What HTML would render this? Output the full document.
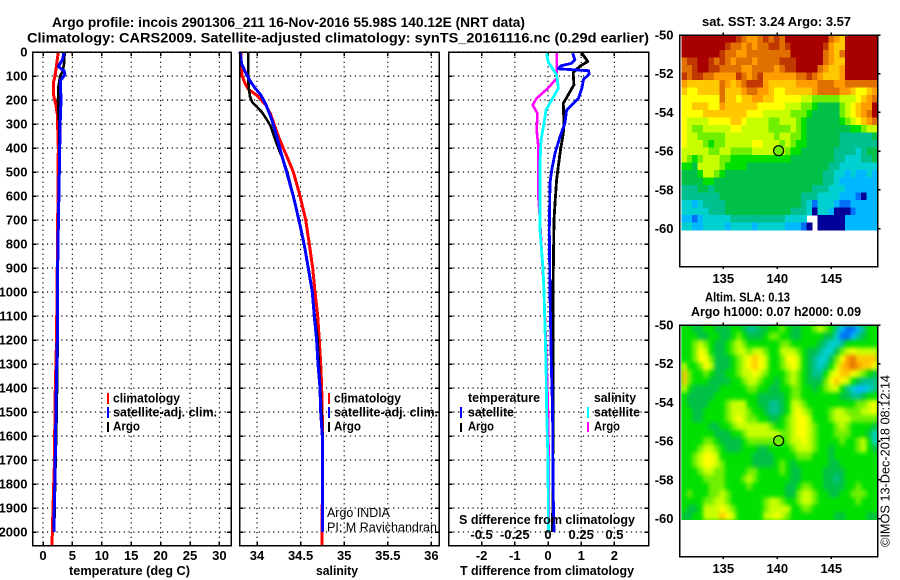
<!DOCTYPE html>
<html lang="en">
<head>
<meta charset="utf-8">
<title>Argo profile chart</title>
<style>
html,body{margin:0;padding:0;background:#fff;}
#chart{display:block;width:900px;height:580px;}
text{font-family:"Liberation Sans",sans-serif;font-weight:bold;font-size:13px;fill:#000;}
text.reg{font-weight:normal;}
</style>
</head>
<body>
<svg id="chart" xmlns="http://www.w3.org/2000/svg" width="900" height="580" viewBox="0 0 900 580">
<defs>
<filter id="sla-smooth" filterUnits="userSpaceOnUse" x="660" y="310" width="240" height="230" color-interpolation-filters="sRGB">
<feGaussianBlur stdDeviation="2"/>
</filter>
<clipPath id="sla-clip"><rect x="681.3" y="325" width="196.2" height="195"/></clipPath>
</defs>
<rect x="0" y="0" width="900" height="580" fill="#fff"/>
<text x="52" y="27" font-size="14" textLength="473" lengthAdjust="spacingAndGlyphs" style="font-size:14px">Argo profile: incois 2901306_211 16-Nov-2016 55.98S 140.12E (NRT data)</text>
<text x="27" y="42.5" textLength="622" lengthAdjust="spacingAndGlyphs" style="font-size:14px">Climatology: CARS2009. Satellite-adjusted climatology: synTS_20161116.nc (0.29d earlier)</text>
<g id="layer-maps"></g>
<g id="layer-panels"></g>

<text x="69" y="575" textLength="121" lengthAdjust="spacingAndGlyphs">temperature (deg C)</text>
<text x="316" y="575" textLength="42" lengthAdjust="spacingAndGlyphs">salinity</text>
<text x="460" y="575" textLength="174" lengthAdjust="spacingAndGlyphs">T difference from climatology</text>
<text x="459" y="524" textLength="176" lengthAdjust="spacingAndGlyphs">S difference from climatology</text>

<g>
<rect x="107" y="393" width="2" height="11" fill="#f00"/>
<text x="113" y="402.5" textLength="67" lengthAdjust="spacingAndGlyphs">climatology</text>
<rect x="107" y="407" width="2" height="11" fill="#00f"/>
<text x="113" y="416.5" textLength="104" lengthAdjust="spacingAndGlyphs">satellite-adj. clim.</text>
<rect x="107" y="422" width="2" height="10" fill="#000"/>
<text x="113" y="430.5" textLength="27" lengthAdjust="spacingAndGlyphs">Argo</text>
</g>
<g>
<rect x="328" y="393" width="2" height="11" fill="#f00"/>
<text x="334" y="402.5" textLength="67" lengthAdjust="spacingAndGlyphs">climatology</text>
<rect x="328" y="407" width="2" height="11" fill="#00f"/>
<text x="334" y="416.5" textLength="104" lengthAdjust="spacingAndGlyphs">satellite-adj. clim.</text>
<rect x="328" y="422" width="2" height="10" fill="#000"/>
<text x="334" y="430.5" textLength="27" lengthAdjust="spacingAndGlyphs">Argo</text>
</g>
<g>
<text x="468" y="402" textLength="72" lengthAdjust="spacingAndGlyphs">temperature</text>
<rect x="460" y="407" width="2" height="11" fill="#00f"/>
<text x="468" y="416.5" textLength="46" lengthAdjust="spacingAndGlyphs">satellite</text>
<rect x="460" y="423" width="2" height="9" fill="#000"/>
<text x="468" y="430.5" textLength="26" lengthAdjust="spacingAndGlyphs">Argo</text>
<text x="594" y="402" textLength="42" lengthAdjust="spacingAndGlyphs">salinity</text>
<rect x="587" y="407" width="2" height="11" fill="#0ff"/>
<text x="594" y="416.5" textLength="46" lengthAdjust="spacingAndGlyphs">satellite</text>
<rect x="587" y="422" width="2" height="10" fill="#f0f"/>
<text x="594" y="430.5" textLength="26" lengthAdjust="spacingAndGlyphs">Argo</text>
</g>
<text class="reg" x="327" y="517" textLength="63" lengthAdjust="spacingAndGlyphs">Argo INDIA</text>
<text class="reg" x="327" y="531.5" textLength="110" lengthAdjust="spacingAndGlyphs">PI: M Ravichandran</text>

<text x="702" y="26" textLength="149" lengthAdjust="spacingAndGlyphs">sat. SST: 3.24 Argo: 3.57</text>
<text x="705" y="301.5" textLength="85" lengthAdjust="spacingAndGlyphs">Altim. SLA: 0.13</text>
<text x="691" y="316" textLength="170" lengthAdjust="spacingAndGlyphs">Argo h1000: 0.07 h2000: 0.09</text>
<text class="reg" transform="translate(889.5,547) rotate(-90)" x="0" y="0" textLength="172" lengthAdjust="spacingAndGlyphs">©IMOS 13-Dec-2018 08:12:14</text>
</svg>

<script>
// ---- shared depth axis ----
var depthTicks = [0,100,200,300,400,500,600,700,800,900,1000,1100,1200,1300,1400,1500,1600,1700,1800,1900,2000];

// ---- temperature panel ----
var tempTicks = [0,5,10,15,20,25,30];
var tempClimDepth = [0,50,100,130,180,220,260,400,600,800,1000,1200,1450,1700,1900,2056];
var tempClim = [2.6,2.33,2.04,1.75,1.8,2.2,2.43,2.6,2.54,2.47,2.38,2.3,2.04,1.96,1.7,1.53];
var tempSatDepth = [0,30,60,80,95,120,200,300,500,800,1000,1200,1400,1600,1800,1950,2000];
var tempSat = [3.57,3.35,2.6,3.6,3.7,2.95,3.06,2.9,2.78,2.55,2.43,2.43,2.27,2.15,2.0,1.87,1.83];
var tempArgoDepth = [0,50,80,100,150,200,250,300,500,800,1000,1200,1500,1800,2000];
var tempArgo = [3.69,3.57,3.35,2.9,2.6,2.55,2.62,2.78,2.75,2.58,2.43,2.5,2.33,2.05,1.9];

// ---- salinity panel ----
var salTicks = [34,34.5,35,35.5,36];
var salClimDepth = [0,50,100,130,155,180,220,260,300,350,400,450,500,550,600,700,800,900,1000,1100,1200,1300,1400,1600,2056];
var salClim = [33.813,33.82,33.83,33.862,33.9,33.997,34.1,34.157,34.195,34.244,34.3,34.36,34.416,34.455,34.493,34.558,34.6,34.639,34.665,34.696,34.714,34.73,34.742,34.753,34.745];
var salSatDepth = [0,50,80,120,150,180,220,280,350,420,500,600,700,800,900,1000,1100,1200,1300,1400,1500,1600,1700,2000];
var salSat = [33.805,33.825,33.862,33.92,33.977,34.046,34.103,34.168,34.226,34.275,34.34,34.416,34.48,34.54,34.588,34.634,34.657,34.684,34.7,34.722,34.73,34.749,34.753,34.753];
var salArgoDepth = [0,100,150,185,210,230,250,280,310,350,400,450,500,600,700,800,900,1000,1100,1200,1400,1600,2000];
var salArgo = [33.9,33.9,33.905,33.92,33.946,34.003,34.054,34.11,34.157,34.195,34.244,34.3,34.347,34.416,34.48,34.54,34.588,34.634,34.662,34.695,34.725,34.753,34.753];

// ---- difference panel ----
var tDiffTicks = [-2,-1,0,1,2];
var sDiffTicks = [-0.5,-0.25,0,0.25,0.5];
var sDiffTickLabels = ['-0.5','-0.25','0','0.25','0.5'];
var tDiffSatDepth = [5,33,47,58,70,78,92,114,151,193,221,242,297,353,422,492,547,742,1000,1300,1500,1800,2000];
var tDiffSat = [0.74,0.81,0.71,0.38,0.31,1.22,1.24,1.07,1.02,0.92,0.71,0.56,0.51,0.36,0.21,0.11,0.06,0.04,0.06,0.1,0.14,0.15,0.18];
var tDiffArgoDepth = [5,40,58,86,137,214,297,339,422,533,631,700,1000,1500,2000];
var tDiffArgo = [1.02,1.2,0.97,0.76,0.78,0.46,0.48,0.46,0.36,0.26,0.21,0.18,0.15,0.15,0.14];
var sDiffSatDepth = [5,40,96,151,200,242,297,367,464,742,900,1000,1300,1500,1700,2000];
var sDiffSat = [-0.01,0,0.065,0.078,0.028,-0.015,-0.03,-0.053,-0.06,-0.06,-0.038,-0.03,-0.015,-0.01,0,0.003];
var sDiffArgoDepth = [5,110,151,193,221,256,325,394,603,700,900,1000,1300,1500,1700,2000];
var sDiffArgo = [0.065,0.065,0,-0.085,-0.115,-0.08,-0.085,-0.073,-0.073,-0.06,-0.04,-0.03,-0.01,0,0.005,0.003];

// ---- maps ----
var latTicks = [-50,-52,-54,-56,-58,-60];
var lonTicks = [135,140,145];
var floatLat = -55.98;
var floatLon = 140.12;
var levelColors = ['#000098','#0070f8','#00b8ff','#00d0d0','#00c090','#00c048','#00e000','#70f000','#c8ff00','#ffff00','#ffc800','#ff9c00','#e07000','#c03800','#a80000'];
// SST colour level per grid cell (north to south); -1 means no data
var sstLevels = [
[14,14,14,14,14,14,14,14,14,14,13,12,11,11,12,13,12,13,12,14,14,14,14,14,14,14,14,12,11,10,14,14,14,14,14,14],
[14,14,14,14,14,14,14,14,13,12,12,11,12,11,12,12,13,13,12,13,14,14,14,14,14,14,13,11,10,10,14,14,14,14,14,14],
[14,14,14,14,14,14,14,13,12,12,11,11,12,12,12,12,12,12,12,12,14,14,14,14,14,14,12,11,10,12,14,14,14,14,14,14],
[12,13,13,14,14,13,12,13,12,11,12,12,12,11,12,12,12,12,13,13,13,14,14,14,14,14,12,11,10,10,14,14,14,14,14,14],
[12,12,13,14,14,13,13,12,12,12,12,11,11,12,12,12,12,11,12,13,13,14,14,14,14,12,11,10,10,11,14,14,14,14,14,14],
[13,12,13,13,12,12,11,11,11,11,13,12,11,12,13,11,11,11,11,11,11,12,12,13,12,11,10,10,10,11,14,14,14,14,14,14],
[11,10,10,10,10,10,10,12,11,10,11,12,13,13,13,11,10,10,10,10,10,11,11,11,11,12,12,12,11,11,12,12,12,12,12,12],
[10,9,9,10,10,10,10,12,10,10,10,11,12,12,11,11,10,9,9,10,10,10,10,10,11,12,12,12,12,11,11,10,9,9,10,11],
[9,9,9,9,9,9,9,12,10,10,9,10,10,11,11,10,10,9,9,9,9,9,8,8,7,7,7,7,7,8,8,8,9,10,11,12],
[9,9,10,10,10,9,9,11,10,10,10,10,10,10,9,9,9,9,9,8,8,8,7,7,6,5,5,5,5,7,8,9,10,11,11,14],
[9,9,9,9,10,10,10,10,10,10,10,10,9,9,9,8,8,8,8,8,7,7,7,6,5,5,5,5,5,7,8,9,10,11,12,14],
[9,8,8,8,8,9,9,9,9,10,10,9,8,8,8,8,7,7,8,8,8,7,6,5,5,5,5,5,5,6,7,8,9,10,11,12],
[9,8,7,7,8,8,8,8,8,9,9,8,8,8,8,8,7,7,7,7,8,7,6,5,5,5,5,5,5,5,5,6,6,7,8,8],
[9,8,8,7,7,7,7,7,8,8,8,8,8,8,8,8,8,7,8,8,7,7,6,5,5,5,5,5,5,4,4,4,4,4,4,5],
[9,8,8,8,7,6,7,7,8,8,8,8,8,9,9,8,8,8,7,8,7,6,6,5,5,5,5,5,5,4,4,4,4,4,4,4],
[8,8,8,8,8,7,7,8,8,7,7,7,7,8,8,8,8,7,8,7,6,6,5,5,5,5,5,5,4,4,4,4,3,4,5,5],
[8,7,6,7,8,8,8,7,7,6,6,6,6,6,6,6,6,6,6,6,5,5,5,5,5,5,5,5,4,4,3,3,3,4,4,5],
[6,6,5,8,8,8,8,7,6,6,6,6,5,5,5,5,5,5,5,5,5,5,5,5,5,5,5,4,4,3,3,3,3,3,3,3],
[5,5,5,6,8,8,7,6,5,5,5,5,5,5,5,5,5,5,5,5,5,5,5,5,5,5,4,4,3,3,2,3,2,2,3,2],
[5,5,5,5,6,6,5,5,5,5,5,5,5,5,5,5,5,5,5,5,5,5,5,5,5,5,4,4,3,2,2,2,2,2,2,2],
[4,4,4,5,5,4,5,5,5,5,5,5,5,5,5,5,5,5,5,5,5,5,5,5,4,4,4,3,3,3,2,2,2,2,2,2],
[4,4,4,4,4,4,4,5,5,5,5,5,5,5,5,5,5,5,5,5,5,5,4,4,4,3,3,3,3,2,2,2,1,0,2,2],
[3,3,2,3,4,4,4,4,5,5,5,5,5,5,5,5,5,5,5,5,5,5,4,3,1,3,3,3,2,1,1,2,2,2,2,2],
[3,3,3,3,3,4,4,4,5,5,5,5,5,5,5,5,5,5,5,5,4,4,4,3,0,3,3,2,0,0,0,1,2,2,2,2],
[2,2,1,2,3,3,3,3,3,4,4,4,4,4,4,4,4,4,4,3,3,3,3,-1,-1,0,0,0,0,0,2,2,2,2,2,2],
[3,3,2,2,3,3,3,3,2,3,3,3,3,2,3,3,3,3,3,2,2,2,1,0,-1,0,0,0,0,0,2,2,2,2,2,2]
];
// Sea level anomaly colour level per grid cell (north to south)
var slaLevels = [
[6,6,5,5,6,6,5,5,5,6,6,5,4,4,5,5,6,6,7,6,5,5,6,6,7,8,7,6,4,2,1,1,2,4,6,6],
[6,6,6,5,5,6,6,5,5,6,7,6,5,5,5,6,7,7,6,6,5,5,6,6,6,6,5,5,3,1,1,2,4,5,6,6],
[6,6,7,8,7,6,5,5,6,7,8,7,6,6,6,6,6,6,7,7,6,6,6,6,6,5,4,3,3,4,6,6,6,6,6,6],
[6,6,7,9,8,6,5,5,6,7,8,8,7,8,8,7,6,6,8,8,8,7,6,5,5,4,3,3,5,7,8,9,8,8,8,8],
[6,6,7,9,9,7,5,5,5,6,7,8,9,10,9,8,6,6,7,9,9,8,6,5,4,3,3,5,7,9,11,12,10,10,10,10],
[8,6,6,7,9,8,5,5,5,6,7,8,9,10,9,8,6,6,7,8,9,8,6,5,4,3,4,6,8,10,11,12,11,10,10,9],
[10,7,6,6,7,6,5,5,6,6,7,8,8,9,8,7,6,6,6,7,8,7,6,5,4,4,6,8,9,10,10,9,8,7,6,5],
[10,7,6,6,6,5,5,5,5,6,6,7,8,8,7,6,6,5,6,7,8,7,6,5,5,5,7,9,10,9,8,6,5,4,4,4],
[8,6,5,5,5,5,5,6,6,6,6,6,7,7,6,6,5,5,6,6,7,7,6,6,5,6,7,8,8,6,4,3,2,2,3,4],
[6,5,5,5,5,5,6,6,6,6,6,6,6,6,5,5,5,5,5,6,7,7,6,6,6,6,6,6,6,5,5,4,4,5,6,6],
[6,5,5,5,5,6,6,6,7,8,8,8,6,6,5,5,4,4,5,6,8,8,7,6,6,6,6,6,6,6,6,6,7,7,8,9],
[6,6,5,5,6,6,6,6,7,8,8,8,7,6,6,5,4,4,5,6,8,9,8,7,6,6,6,7,8,8,7,7,7,8,8,9],
[6,6,5,5,6,6,6,6,7,8,9,8,7,7,6,6,5,5,6,7,8,9,9,8,6,6,6,7,8,8,8,7,7,7,7,7],
[6,6,6,6,6,5,5,6,6,7,8,8,8,8,8,8,7,6,6,7,8,9,9,8,7,6,6,6,7,8,7,6,6,6,6,5],
[6,6,6,6,6,6,5,5,5,6,6,7,8,8,8,8,8,8,7,7,8,9,9,8,7,6,6,6,7,7,7,6,6,6,5,3],
[6,6,6,6,7,7,6,5,5,5,5,6,7,7,7,7,7,7,6,7,8,8,9,8,7,6,6,6,6,7,6,6,7,8,6,3],
[6,6,6,7,8,8,7,6,5,5,5,6,6,6,5,5,6,6,6,6,7,8,8,8,7,6,6,5,6,6,6,6,7,8,6,5],
[6,6,7,8,9,9,8,6,6,6,6,6,6,5,5,5,5,6,6,6,6,7,7,7,6,6,6,5,6,6,6,6,6,6,6,6],
[6,6,7,8,9,9,8,7,6,6,6,6,6,5,5,5,5,6,7,6,5,6,6,6,6,6,6,5,5,6,6,6,6,6,6,6],
[6,6,6,7,8,8,7,7,6,6,6,6,7,7,6,6,6,6,7,6,5,5,6,6,6,6,5,5,5,5,6,6,6,6,6,6],
[6,6,6,6,7,7,7,7,6,6,6,7,8,7,6,6,6,6,6,6,5,5,6,6,6,6,5,5,4,5,6,6,6,6,6,6],
[6,6,6,6,6,7,7,7,6,6,6,6,7,6,6,6,6,6,6,5,5,6,7,7,6,6,5,5,5,5,6,6,7,6,6,6],
[6,7,6,6,6,7,7,8,7,6,6,6,6,6,6,6,6,6,6,5,5,7,8,8,7,6,6,5,5,6,6,7,7,7,6,6],
[6,6,6,6,7,7,8,8,7,6,6,6,6,6,6,7,8,8,7,6,6,7,8,8,7,6,6,6,6,6,6,6,7,6,6,6],
[6,5,5,6,8,8,8,9,8,7,6,6,6,6,6,7,8,8,8,8,6,6,7,7,6,6,6,6,6,6,6,6,6,6,6,6],
[5,5,6,6,8,8,8,10,9,8,6,6,6,6,6,8,8,9,8,7,6,6,6,6,6,6,6,6,5,5,6,6,6,6,5,5]
];

var NS = 'http://www.w3.org/2000/svg';
var panelsLayer = document.getElementById('layer-panels');
var mapsLayer = document.getElementById('layer-maps');

function make(tag, parent, attrs) {
  var node = document.createElementNS(NS, tag);
  for (var k in attrs) node.setAttribute(k, attrs[k]);
  parent.appendChild(node);
  return node;
}
function label(parent, x, y, anchor, str) {
  var t = make('text', parent, {x: x, y: y, 'text-anchor': anchor});
  t.textContent = str;
  return t;
}

// axis functions
var PANEL_TOP = 52, PANEL_BOTTOM = 545.5;
function yDepth(d) { return PANEL_TOP + d * 0.24; }
function xTemp(v) { return 43 + v * 5.88; }
function xSal(v) { return 257 + (v - 34) * 87.2; }
function xTDiff(v) { return 548 + v * 33.2; }
function xSDiff(v) { return 548 + v * 132.8; }

function drawPanel(name, left, right, gridXs) {
  var g = make('g', panelsLayer, {});
  
  
  depthTicks.forEach(function (d) {
    var y = yDepth(d);
    var line = make('line', g, {x1: left, x2: right, y1: y, y2: y, stroke: '#000', 'stroke-width': 1.2, 'stroke-dasharray': '1.2 3.6'});
    
    
    var tickL = make('line', g, {x1: left, x2: left + 4, y1: y, y2: y, stroke: '#000', 'stroke-width': 1.5, 'shape-rendering': 'crispEdges'});
    
    
    var tickR = make('line', g, {x1: right - 4, x2: right, y1: y, y2: y, stroke: '#000', 'stroke-width': 1.5, 'shape-rendering': 'crispEdges'});
    
    
  });
  gridXs.forEach(function (x) {
    var line = make('line', g, {x1: x, x2: x, y1: PANEL_TOP, y2: PANEL_BOTTOM, stroke: '#000', 'stroke-width': 1.2, 'stroke-dasharray': '1.2 3.6'});
    
    
    var tick = make('line', g, {x1: x, x2: x, y1: PANEL_BOTTOM - 4, y2: PANEL_BOTTOM, stroke: '#000', 'stroke-width': 1.5, 'shape-rendering': 'crispEdges'});
    
    
    var tickTop = make('line', g, {x1: x, x2: x, y1: PANEL_TOP, y2: PANEL_TOP + 4, stroke: '#000', 'stroke-width': 1.5, 'shape-rendering': 'crispEdges'});
    
    
  });
  return g;
}
function drawFrame(parent, left, right, top, bottom) {
  var frame = make('rect', parent, {x: left, y: top, width: right - left, height: bottom - top, fill: 'none', stroke: '#000', 'stroke-width': 1.5, 'shape-rendering': 'crispEdges'});
  
  
}
function drawProfile(parent, name, depths, values, xScale, color, width) {
  var pts = depths.map(function (d, i) {
    return xScale(values[i]).toFixed(1) + ',' + yDepth(d).toFixed(1);
  }).join(' ');
  var line = make('polyline', parent, {points: pts, fill: 'none', stroke: color, 'stroke-width': width, 'stroke-linejoin': 'round', 'shape-rendering': 'crispEdges'});
  
  
}
function numberText(v) { return String(v); }

// temperature panel
var panelT = drawPanel('temperature-panel', 32.5, 231, tempTicks.map(xTemp));
drawProfile(panelT, 'temperature-climatology-line', tempClimDepth, tempClim, xTemp, '#f00', 3);
drawProfile(panelT, 'temperature-argo-line', tempArgoDepth, tempArgo, xTemp, '#000', 2.6);
drawProfile(panelT, 'temperature-satellite-line', tempSatDepth, tempSat, xTemp, '#00f', 3);
drawFrame(panelT, 32.5, 231, PANEL_TOP, PANEL_BOTTOM);
depthTicks.forEach(function (d) {
  var t = label(panelT, 27.5, yDepth(d) + 4.5, 'end', numberText(d));
  
  
});
tempTicks.forEach(function (v) {
  var t = label(panelT, xTemp(v), 560, 'middle', numberText(v));
  
  
});

// salinity panel
var panelS = drawPanel('salinity-panel', 239.5, 439, salTicks.map(xSal));
drawProfile(panelS, 'salinity-climatology-line', salClimDepth, salClim, xSal, '#f00', 3);
drawProfile(panelS, 'salinity-argo-line', salArgoDepth, salArgo, xSal, '#000', 2.6);
drawProfile(panelS, 'salinity-satellite-line', salSatDepth, salSat, xSal, '#00f', 3);
drawFrame(panelS, 239.5, 439, PANEL_TOP, PANEL_BOTTOM);
salTicks.forEach(function (v) {
  var t = label(panelS, xSal(v), 560, 'middle', numberText(v));
  
  
});

// difference panel
var panelD = drawPanel('difference-panel', 448.5, 648.5, tDiffTicks.map(xTDiff));
drawProfile(panelD, 'salinity-argo-difference-line', sDiffArgoDepth, sDiffArgo, xSDiff, '#f0f', 2.6);
drawProfile(panelD, 'salinity-satellite-difference-line', sDiffSatDepth, sDiffSat, xSDiff, '#0ff', 2.8);
drawProfile(panelD, 'temperature-argo-difference-line', tDiffArgoDepth, tDiffArgo, xTDiff, '#000', 2.8);
drawProfile(panelD, 'temperature-satellite-difference-line', tDiffSatDepth, tDiffSat, xTDiff, '#00f', 2.8);
drawFrame(panelD, 448.5, 648.5, PANEL_TOP, PANEL_BOTTOM);
tDiffTicks.forEach(function (v) {
  var t = label(panelD, xTDiff(v), 560, 'middle', numberText(v));
  
  
});
sDiffTicks.forEach(function (v, i) {
  var t = label(panelD, xSDiff(v), 539, 'middle', sDiffTickLabels[i]);
  
  
});

// maps
var MAP_LEFT = 679.5, MAP_RIGHT = 877.5;
var GRID_LEFT = 681.3;
function xLon(lon) { return 723.3 + (lon - 135) * 10.8; }
function drawMap(name, top, levels, tickLabelY, smooth) {
  var g = make('g', mapsLayer, {});
  
  
  var yLat = function (lat) { return top + (-50 - lat) * 19.35; };
  var rows = levels.length;
  var cols = levels[0].length;
  var gridBottom = top + 195;
  var cw = (MAP_RIGHT - GRID_LEFT) / cols;
  var ch = (gridBottom - top) / rows;
  var cellParent = g;
  if (smooth) {
    var clipGroup = make('g', g, {'clip-path': 'url(#sla-clip)'});
    
    
    var under = make('rect', clipGroup, {x: GRID_LEFT, y: top, width: MAP_RIGHT - GRID_LEFT, height: 195, fill: levelColors[6]});
    
    
    cellParent = make('g', clipGroup, {filter: 'url(#sla-smooth)'});
    
    
  }
  levels.forEach(function (row, r) {
    row.forEach(function (lvl, c) {
      if (lvl < 0) return;
      var cell = make('rect', cellParent, {x: (GRID_LEFT + c * cw).toFixed(2), y: (top + r * ch).toFixed(2), width: (cw + 0.5).toFixed(2), height: (ch + 0.5).toFixed(2), fill: levelColors[lvl], 'shape-rendering': 'crispEdges'});
      
      
    });
  });
  var bottom = top + 231.7;
  drawFrame(g, MAP_LEFT, MAP_RIGHT, top, bottom);
  latTicks.forEach(function (lat) {
    var y = yLat(lat);
    var tick = make('line', g, {x1: MAP_RIGHT, x2: MAP_RIGHT + 3, y1: y, y2: y, stroke: '#000', 'stroke-width': 1.5, 'shape-rendering': 'crispEdges'});
    
    
    var t = label(g, 673.5, y + 4.5, 'end', numberText(lat));
    
    
  });
  lonTicks.forEach(function (lon) {
    var x = xLon(lon);
    var tickT = make('line', g, {x1: x, x2: x, y1: top - 2.5, y2: top, stroke: '#000', 'stroke-width': 1.5, 'shape-rendering': 'crispEdges'});
    
    
    var tickB = make('line', g, {x1: x, x2: x, y1: bottom, y2: bottom + 2.5, stroke: '#000', 'stroke-width': 1.5, 'shape-rendering': 'crispEdges'});
    
    
    var t = label(g, x, tickLabelY, 'middle', numberText(lon));
    
    
  });
  var mx = xLon(floatLon);
  var my = yLat(floatLat);
  var col = Math.floor((mx - GRID_LEFT) / cw);
  var rowIdx = Math.floor((my - top) / ch);
  var marker = make('circle', g, {cx: mx.toFixed(1), cy: my.toFixed(1), r: 5, fill: levelColors[Math.max(levels[rowIdx][col], 7)], stroke: '#000', 'stroke-width': 1.2});
  
  
}
drawMap('sst-map', 35, sstLevels, 283, false);
drawMap('sla-map', 325, slaLevels, 573, true);
</script>
</body>
</html>
